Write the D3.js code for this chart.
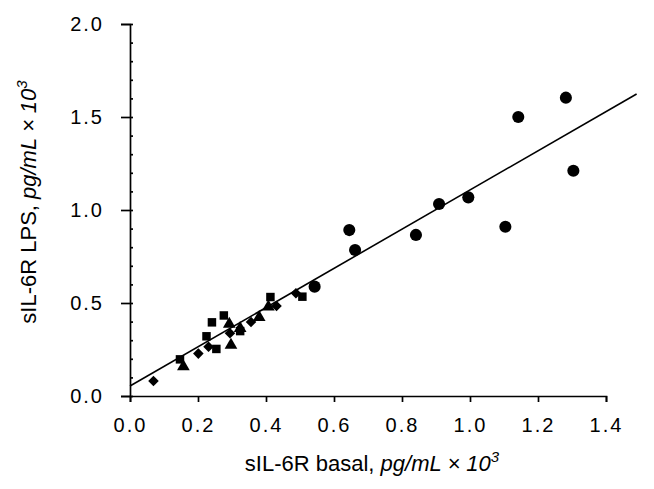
<!DOCTYPE html>
<html>
<head>
<meta charset="utf-8">
<script src="https://cdn.jsdelivr.net/npm/d3@7"></script>
<style>
  body { margin: 0; background: #fff; }
  svg { display: block; font-family: "Liberation Sans", Arial, sans-serif; }
</style>
</head>
<body>
<svg id="chart" width="654" height="489"></svg>
<script>
// data (x = basal, y = LPS, both pg/mL x 10^3)
const circles = [
    [0.543, 0.588], [0.645, 0.892], [0.662, 0.785], [0.841, 0.866], [0.909, 1.032],
    [0.995, 1.068], [1.104, 0.910], [1.142, 1.500], [1.282, 1.604], [1.304, 1.211]
];
const squares = [
    [0.147, 0.197], [0.225, 0.321], [0.241, 0.396], [0.254, 0.253], [0.276, 0.433],
    [0.324, 0.349], [0.413, 0.532], [0.507, 0.534]
];
const diamonds = [
    [0.069, 0.081], [0.201, 0.228], [0.231, 0.265], [0.294, 0.337], [0.356, 0.398],
    [0.431, 0.484], [0.488, 0.552]
];
const triangles = [
    [0.157, 0.158], [0.292, 0.387], [0.297, 0.274], [0.324, 0.364], [0.380, 0.423],
    [0.407, 0.480]
];
// regression line end points
const fitLine = [[0, 0.054], [1.49, 1.624]];

const xTicks = [0, 0.2, 0.4, 0.6, 0.8, 1.0, 1.2, 1.4];
const yTicks = [0, 0.5, 1.0, 1.5, 2.0];
const yMinor = d3.range(0, 2.01, 0.1);

const svg = d3.select('#chart');
const x = d3.scaleLinear().domain([0, 1.4]).range([130, 606]);
const y = d3.scaleLinear().domain([0, 2.0]).range([396, 24]);

// axes
svg.append('g')
    .attr('transform', `translate(0,${y(0)})`)
    .call(d3.axisBottom(x).tickValues(xTicks).tickFormat(d3.format('.1f')).tickSizeOuter(0).tickSize(6).tickPadding(16));
svg.append('g')
    .attr('transform', `translate(${x(0)},0)`)
    .call(d3.axisLeft(y).tickValues(yTicks).tickFormat(d3.format('.1f')).tickSizeOuter(0).tickSize(9).tickPadding(17));
// minor ticks pointing inward
svg.append('g')
    .attr('transform', `translate(${x(0)},0)`)
    .call(d3.axisRight(y).tickValues(yMinor).tickFormat('').tickSizeOuter(0).tickSize(3))
    .select('.domain').remove();

svg.selectAll('.domain, .tick line').attr('stroke', '#000').attr('stroke-width', 1.7);
svg.selectAll('.tick text')
    .attr('font-size', 20)
    .attr('letter-spacing', 2)
    .attr('fill', '#000');

// regression line
svg.append('line')
    .attr('x1', x(fitLine[0][0])).attr('y1', y(fitLine[0][1]))
    .attr('x2', x(fitLine[1][0])).attr('y2', y(fitLine[1][1]))
    .attr('stroke', '#000').attr('stroke-width', 1.6);

// markers
const sym = (type, size, data, rot = 0) => {
    svg.append('g').selectAll('path')
        .data(data)
        .enter()
        .append('path')
        .attr('transform', d => `translate(${x(d[0])},${y(d[1])}) rotate(${rot})`)
        .attr('d', d3.symbol().type(type).size(size))
        .attr('fill', '#000');
};
sym(d3.symbolCircle, 115, circles);
sym(d3.symbolSquare, 72, squares);
sym(d3.symbolTriangle, 70, triangles);
sym(d3.symbolSquare, 56, diamonds, 45);

// axis titles
const xTitle = svg.append('text')
    .attr('x', 372).attr('y', 471)
    .attr('text-anchor', 'middle')
    .attr('font-size', 22);
xTitle.append('tspan').text('sIL-6R basal, ');
xTitle.append('tspan').attr('font-style', 'italic').text('pg/mL × 10');
xTitle.append('tspan').attr('font-style', 'italic').attr('font-size', 15).attr('dy', -9).text('3');

const yTitle = svg.append('text')
    .attr('transform', 'translate(36,202) rotate(-90)')
    .attr('text-anchor', 'middle')
    .attr('font-size', 22);
yTitle.append('tspan').text('sIL-6R LPS, ');
yTitle.append('tspan').attr('font-style', 'italic').text('pg/mL × 10');
yTitle.append('tspan').attr('font-style', 'italic').attr('font-size', 15).attr('dy', -9).text('3');
</script>
</body>
</html>
